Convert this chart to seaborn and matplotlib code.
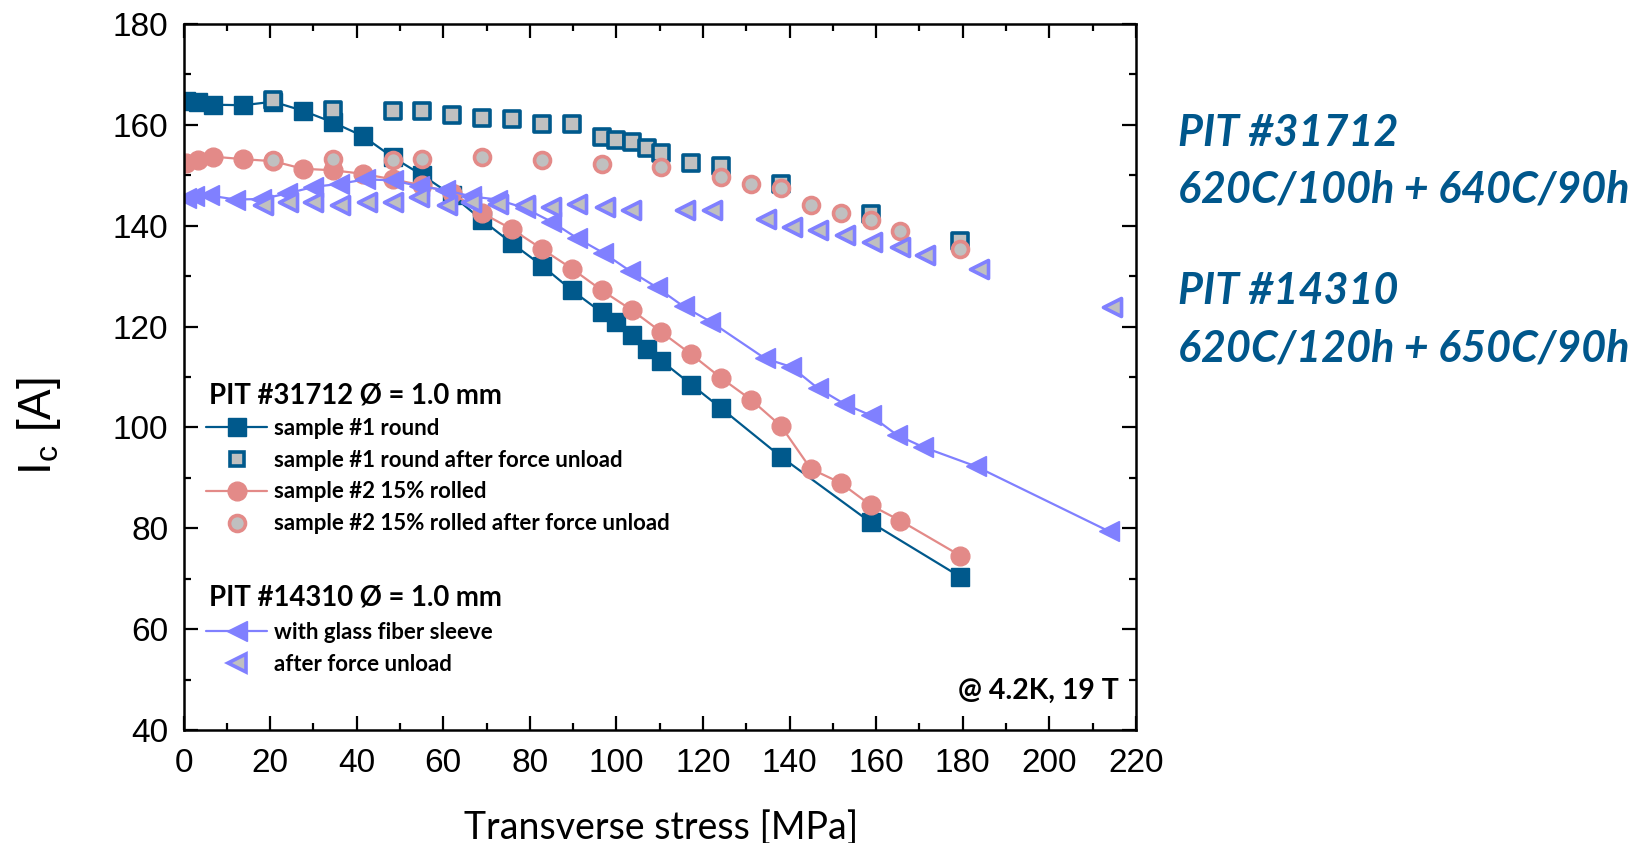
import matplotlib
matplotlib.use("Agg")
import matplotlib.pyplot as plt
import seaborn as sns
import pandas as pd
from matplotlib.lines import Line2D
from matplotlib.ticker import MultipleLocator
from matplotlib.font_manager import FontProperties

# ---------------- data ----------------
s1_x = [0.5, 3.45, 6.9, 13.8, 20.7, 27.6, 34.5, 41.4, 48.3, 55.2, 62.1, 69.0, 75.9, 82.8,
        89.7, 96.6, 100.0, 103.5, 107.0, 110.4, 117.3, 124.2, 138.0, 158.7, 179.4]
s1_y = [164.7, 164.5, 164.0, 163.9, 164.6, 162.8, 160.5, 157.8, 153.6, 150.0, 146.0, 141.1, 136.5, 132.1,
        127.2, 122.8, 121.0, 118.3, 115.5, 113.2, 108.5, 103.8, 94.2, 81.2, 70.4]

s1u_x = [20.7, 34.5, 48.3, 55.2, 62.1, 69.0, 75.9, 82.8, 89.7, 96.6, 100.0, 103.5, 107.0,
         110.4, 117.3, 124.2, 138.0, 158.7, 179.4]
s1u_y = [164.9, 163.0, 162.8, 162.8, 162.0, 161.3, 161.2, 160.1, 160.1, 157.6, 157.0, 156.6, 155.4,
         154.5, 152.4, 151.8, 148.3, 142.4, 137.0]

s2_x = [0.5, 3.45, 6.9, 13.8, 20.7, 27.6, 34.5, 41.4, 48.3, 55.2, 62.1, 69.0, 75.9, 82.8, 89.7,
        96.6, 103.5, 110.4, 117.3, 124.2, 131.1, 138.0, 144.9, 151.8, 158.7, 165.6, 179.4]
s2_y = [152.5, 153.1, 153.7, 153.2, 152.8, 151.3, 151.0, 150.3, 149.2, 148.0, 146.5, 142.5, 139.3, 135.4, 131.5,
        127.2, 123.3, 118.9, 114.5, 109.8, 105.5, 100.3, 91.8, 89.0, 84.6, 81.5, 74.6]

s2u_x = [20.7, 34.5, 48.3, 55.2, 69.0, 82.8, 96.6, 110.4, 124.2, 131.1, 138.0, 144.9, 151.8,
         158.7, 165.6, 179.4]
s2u_y = [153.1, 153.3, 153.1, 153.3, 153.6, 153.0, 152.3, 151.6, 149.6, 148.3, 147.5, 144.1, 142.6,
         141.2, 138.9, 135.3]

t_x = [0.5, 2.5, 6.0, 12.0, 18.0, 24.0, 30.0, 36.0, 42.0, 48.5, 54.5, 60.5, 66.5, 72.5, 78.8, 85.0,
       91.0, 97.0, 103.2, 109.3, 115.5, 121.7, 134.3, 140.4, 146.5, 152.6, 158.7, 164.8, 170.9, 183.0, 213.8]
t_y = [145.6, 145.8, 146.0, 145.2, 145.3, 146.4, 147.7, 148.3, 149.2, 149.0, 147.8, 147.1, 145.8, 145.2, 143.5, 140.8,
       137.5, 134.6, 131.0, 127.8, 124.0, 121.0, 113.7, 112.0, 107.8, 104.7, 102.4, 98.5, 96.1, 92.3, 79.4]

tu_x = [18.4, 24.2, 30.0, 36.1, 42.3, 48.4, 54.5, 60.8, 66.5, 72.7, 78.8, 85.0, 91.0, 97.3, 103.4,
        115.9, 122.0, 134.5, 140.6, 146.6, 152.7, 159.1, 165.4, 171.3, 183.8, 214.5]
tu_y = [144.1, 144.7, 144.7, 144.1, 144.7, 144.7, 145.7, 144.1, 144.7, 144.4, 144.1, 143.8, 144.4, 143.8, 143.1,
        143.1, 143.1, 141.4, 139.8, 139.1, 138.1, 136.8, 135.8, 134.2, 131.5, 123.9]

labels_31712 = ["sample #1 round", "sample #1 round after force unload",
                "sample #2 15% rolled", "sample #2 15% rolled after force unload"]
labels_14310 = ["with glass fiber sleeve", "after force unload"]
header_31712 = "PIT #31712 Ø = 1.0 mm"
header_14310 = "PIT #14310 Ø = 1.0 mm"
side_text = ["PIT #31712", "620C/100h + 640C/90h", "PIT #14310", "620C/120h + 650C/90h"]

BLUE = "#00598C"
PINK = "#E38A88"
VIOLET = "#8080FF"
GRAY = "#C0C0C0"

# ---------------- style ----------------
sns.set_theme(style="ticks")
plt.rcParams["font.family"] = ["Liberation Sans", "DejaVu Sans"]
plt.rcParams["mathtext.fontset"] = "custom"
plt.rcParams["mathtext.rm"] = "Liberation Sans"
plt.rcParams["mathtext.it"] = "Liberation Sans:italic"

fig = plt.figure(figsize=(16.37, 8.43), dpi=100)
ax = fig.add_axes([0.1121, 0.134, 0.5818, 0.8375])

MS = 13.5
sns.lineplot(x=s1_x, y=s1_y, ax=ax, color=BLUE, lw=1.6, marker="s", markersize=MS - 0.5,
             markeredgecolor=BLUE, markeredgewidth=1, sort=False, estimator=None, legend=False)
sns.scatterplot(x=s1u_x, y=s1u_y, ax=ax, marker="s", s=(MS - 2.5) ** 2, color=GRAY,
                edgecolor=BLUE, linewidth=2.6, legend=False, zorder=3)
sns.lineplot(x=s2_x, y=s2_y, ax=ax, color=PINK, lw=1.6, marker="o", markersize=MS,
             markeredgecolor=PINK, markeredgewidth=1, sort=False, estimator=None, legend=False)
sns.scatterplot(x=s2u_x, y=s2u_y, ax=ax, marker="o", s=(MS - 2) ** 2, color=GRAY,
                edgecolor=PINK, linewidth=2.6, legend=False, zorder=3)
sns.lineplot(x=t_x, y=t_y, ax=ax, color=VIOLET, lw=1.6, marker="<", markersize=MS + 1,
             markeredgecolor=VIOLET, markeredgewidth=1, sort=False, estimator=None, legend=False)
sns.scatterplot(x=tu_x, y=tu_y, ax=ax, marker="<", s=(MS - 0.5) ** 2, color=GRAY,
                edgecolor=VIOLET, linewidth=2.6, legend=False, zorder=3)

# ---------------- axes ----------------
ax.set_xlim(0, 220)
ax.set_ylim(40, 180)
ax.set_xticks(range(0, 221, 20))
ax.set_yticks(range(40, 181, 20))
ax.xaxis.set_minor_locator(MultipleLocator(10))
ax.yaxis.set_minor_locator(MultipleLocator(10))
ax.tick_params(which="both", direction="in", top=True, right=True, width=1.6, color="black")
ax.tick_params(which="major", length=10)
ax.tick_params(which="minor", length=5)
ax.tick_params(axis="x", pad=13, labelsize=24, labelcolor="black")
ax.tick_params(axis="y", pad=11, labelsize=24, labelcolor="black")
for sp in ax.spines.values():
    sp.set_visible(True)
    sp.set_linewidth(1.8)
    sp.set_color("black")

ax.set_xlabel("Transverse stress [MPa]", fontsize=27, family=["Lato", "DejaVu Sans"], color="black")
ax.xaxis.label.set_va("center")
ax.xaxis.set_label_coords(0.502, -0.139)
ax.set_ylabel(r"I$_\mathrm{c}$ [A]", fontsize=33, color="black")
ax.yaxis.label.set_va("center")
ax.yaxis.set_label_coords(-0.152, 0.43)

# ---------------- legends ----------------
leg_font = FontProperties(family=["Lato", "DejaVu Sans"], weight="bold", size=16)
h1 = Line2D([], [], color=BLUE, lw=1.6, marker="s", ms=MS - 1, mec=BLUE)
h2 = Line2D([], [], ls="none", marker="s", ms=MS - 3, mfc=GRAY, mec=BLUE, mew=2.6)
h3 = Line2D([], [], color=PINK, lw=1.6, marker="o", ms=MS, mec=PINK)
h4 = Line2D([], [], ls="none", marker="o", ms=MS - 2, mfc=GRAY, mec=PINK, mew=2.6)
h5 = Line2D([], [], color=VIOLET, lw=1.6, marker="<", ms=MS + 1, mec=VIOLET)
h6 = Line2D([], [], ls="none", marker="<", ms=MS - 1, mfc=GRAY, mec=VIOLET, mew=2.6)

leg1 = ax.legend(handles=[h1, h2, h3, h4], labels=labels_31712, loc="upper left",
                 bbox_to_anchor=(0.024, 0.4425), frameon=False, prop=leg_font,
                 handlelength=2.75, handletextpad=0.3, labelspacing=0.49,
                 borderpad=0, borderaxespad=0)
for t in leg1.get_texts():
    t.set_color("black")
ax.add_artist(leg1)
leg2 = ax.legend(handles=[h5, h6], labels=labels_14310, loc="upper left",
                 bbox_to_anchor=(0.024, 0.153), frameon=False, prop=leg_font,
                 handlelength=2.75, handletextpad=0.3, labelspacing=0.49,
                 borderpad=0, borderaxespad=0)
for t in leg2.get_texts():
    t.set_color("black")

hdr_font = dict(family=["Lato", "DejaVu Sans"], weight="bold", fontsize=19.8, color="black")
ax.text(0.027, 0.4745, header_31712, transform=ax.transAxes, va="center", ha="left", **hdr_font)
ax.text(0.027, 0.188, header_14310, transform=ax.transAxes, va="center", ha="left", **hdr_font)
ax.text(0.982, 0.055, "@ 4.2K, 19 T", transform=ax.transAxes, va="center", ha="right",
        family=["Lato", "DejaVu Sans"], weight="bold", fontsize=20.5, color="black")

side_y = [0.842, 0.775, 0.655, 0.587]
for txt, yy in zip(side_text, side_y):
    fig.text(0.7194, yy, txt, va="center", ha="left", family=["Lato", "DejaVu Sans"],
             weight="bold", style="italic", fontsize=31, color="#00578C")

fig.savefig("out.png", dpi=100, facecolor="white")
